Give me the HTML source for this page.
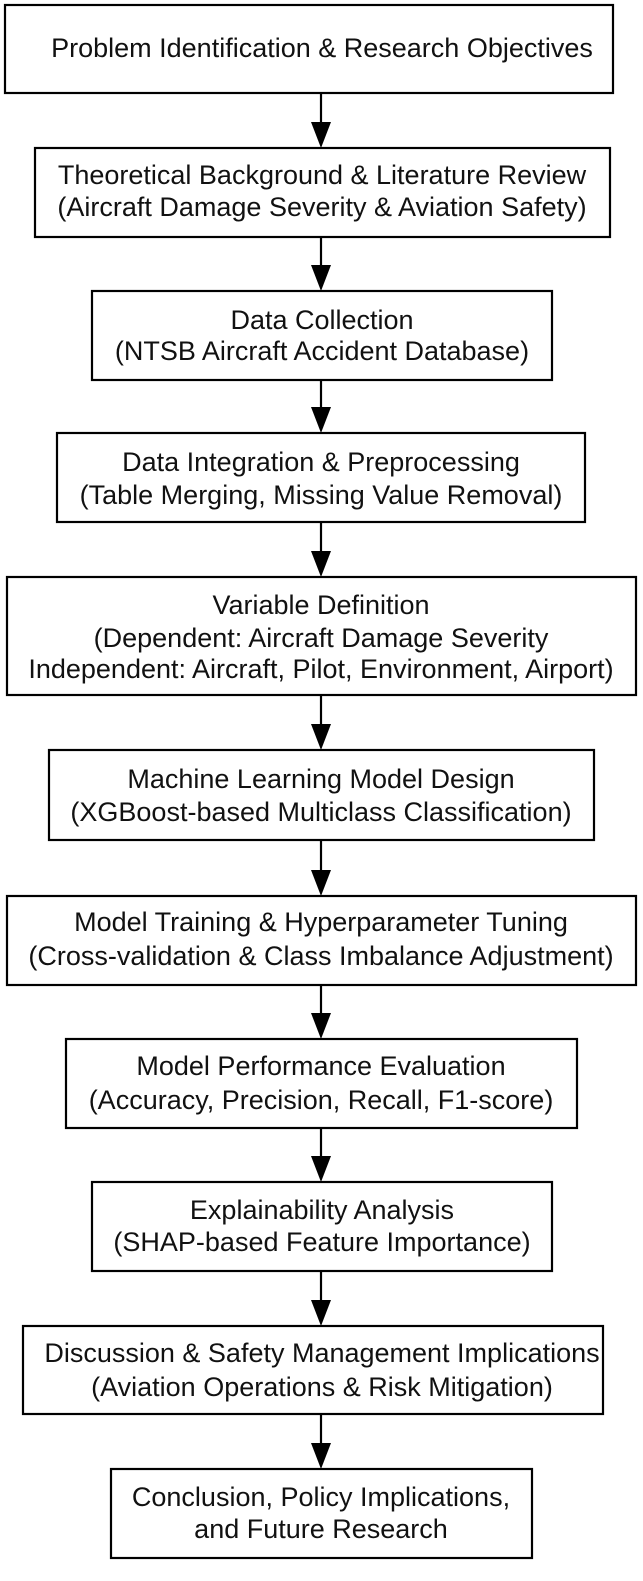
<!DOCTYPE html>
<html><head><meta charset="utf-8"><style>
html,body{margin:0;padding:0;background:#fff;}
svg{display:block;}
text{font-family:"Liberation Sans",Arial,sans-serif;font-size:27px;fill:#111;text-anchor:middle;}
rect{fill:#fff;stroke:#000;stroke-width:2.2;}
line{stroke:#000;stroke-width:2.2;}
polygon{fill:#000;}
</style></head><body>
<svg width="643" height="1581" viewBox="0 0 643 1581">
<g>
<line x1="321" y1="93" x2="321" y2="125"/><polygon points="311,122 331,122 321,148"/>
<line x1="321" y1="237" x2="321" y2="268"/><polygon points="311,265 331,265 321,291"/>
<line x1="321" y1="380" x2="321" y2="410"/><polygon points="311,407 331,407 321,433"/>
<line x1="321" y1="522" x2="321" y2="554"/><polygon points="311,551 331,551 321,577"/>
<line x1="321" y1="695" x2="321" y2="727"/><polygon points="311,724 331,724 321,750"/>
<line x1="321" y1="840" x2="321" y2="873"/><polygon points="311,870 331,870 321,896"/>
<line x1="321" y1="985" x2="321" y2="1016"/><polygon points="311,1013 331,1013 321,1039"/>
<line x1="321" y1="1128" x2="321" y2="1159"/><polygon points="311,1156 331,1156 321,1182"/>
<line x1="321" y1="1271" x2="321" y2="1303"/><polygon points="311,1300 331,1300 321,1326"/>
<line x1="321" y1="1414" x2="321" y2="1446"/><polygon points="311,1443 331,1443 321,1469"/>
</g>
<rect x="5" y="5" width="608" height="88"/>
<text x="322" y="57">Problem Identification &amp; Research Objectives</text>
<rect x="35" y="148" width="575" height="89"/>
<text x="322" y="184">Theoretical Background &amp; Literature Review</text>
<text x="322" y="216">(Aircraft Damage Severity &amp; Aviation Safety)</text>
<rect x="92" y="291" width="460" height="89"/>
<text x="322" y="329">Data Collection</text>
<text x="322" y="360">(NTSB Aircraft Accident Database)</text>
<rect x="57" y="433" width="528" height="89"/>
<text x="321" y="471">Data Integration &amp; Preprocessing</text>
<text x="321" y="504">(Table Merging, Missing Value Removal)</text>
<rect x="7" y="577" width="629" height="118"/>
<text x="321" y="614">Variable Definition</text>
<text x="321" y="647">(Dependent: Aircraft Damage Severity</text>
<text x="321" y="678">Independent: Aircraft, Pilot, Environment, Airport)</text>
<rect x="49" y="750" width="545" height="90"/>
<text x="321" y="788">Machine Learning Model Design</text>
<text x="321" y="821">(XGBoost-based Multiclass Classification)</text>
<rect x="7" y="896" width="629" height="89"/>
<text x="321" y="931">Model Training &amp; Hyperparameter Tuning</text>
<text x="321" y="965">(Cross-validation &amp; Class Imbalance Adjustment)</text>
<rect x="66" y="1039" width="511" height="89"/>
<text x="321" y="1075">Model Performance Evaluation</text>
<text x="321" y="1109">(Accuracy, Precision, Recall, F1-score)</text>
<rect x="92" y="1182" width="460" height="89"/>
<text x="322" y="1219">Explainability Analysis</text>
<text x="322" y="1251">(SHAP-based Feature Importance)</text>
<rect x="23" y="1326" width="580" height="88"/>
<text x="322" y="1362">Discussion &amp; Safety Management Implications</text>
<text x="322" y="1396">(Aviation Operations &amp; Risk Mitigation)</text>
<rect x="111" y="1469" width="421" height="89"/>
<text x="321" y="1506">Conclusion, Policy Implications,</text>
<text x="321" y="1538">and Future Research</text>
</svg>
</body></html>
